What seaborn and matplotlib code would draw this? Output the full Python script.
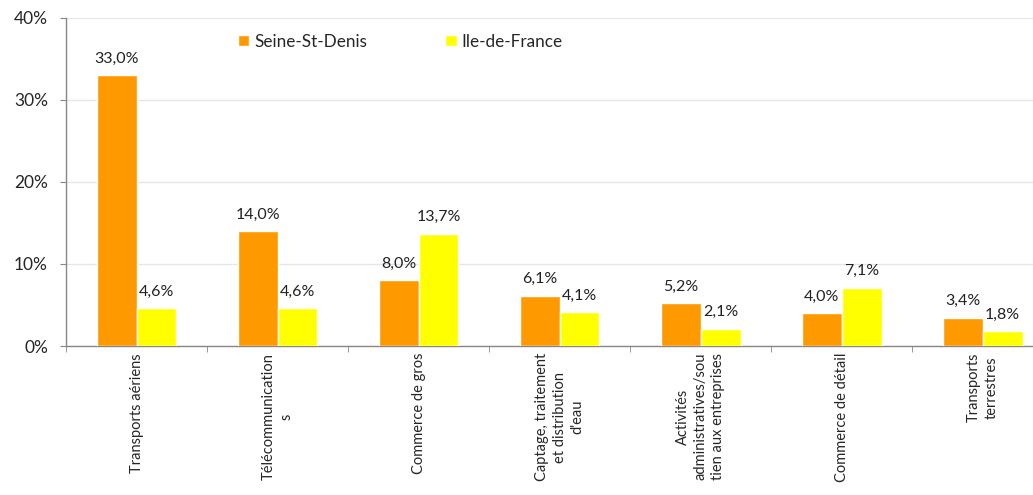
import pandas as pd
import matplotlib.pyplot as plt
import seaborn as sns
from matplotlib.ticker import FixedLocator

# Données
secteurs = [
    "Transports aériens",
    "Télécommunication\ns",
    "Commerce de gros",
    "Captage, traitement\net distribution\nd'eau",
    "Activités\nadministratives/sou\ntien aux entreprises",
    "Commerce de détail",
    "Transports\nterrestres",
]
seine_st_denis = [33.0, 14.0, 8.0, 6.1, 5.2, 4.0, 3.4]
ile_de_france = [4.6, 4.6, 13.7, 4.1, 2.1, 7.1, 1.8]
zones = ["Seine-St-Denis", "Ile-de-France"]
couleurs = ["#FF9900", "#FFFF00"]

df = pd.DataFrame({
    "secteur": secteurs * 2,
    "zone": [zones[0]] * len(secteurs) + [zones[1]] * len(secteurs),
    "valeur": seine_st_denis + ile_de_france,
})

sns.set_style("white")
plt.rcParams['font.family'] = ['Lato', 'DejaVu Sans']

fig = plt.figure(figsize=(10.33, 4.95), dpi=100)
# le graphique d'origine est coupé à droite : l'axe dépasse de la figure
ax = fig.add_axes([0.0639, 0.301, 0.9555, 0.663])

sns.barplot(data=df, x="secteur", y="valeur", hue="zone", order=secteurs,
            hue_order=zones, palette=couleurs, width=0.567, gap=0,
            errorbar=None, saturation=1, ax=ax, zorder=3)

# Etiquettes de valeur au-dessus des barres
for cont in ax.containers:
    labels = [f"{v:.1f}%".replace('.', ',') for v in cont.datavalues]
    ax.bar_label(cont, labels=labels, padding=7, fontsize=11.5, color='#222222')

ax.set_ylim(0, 40)
ax.set_xlim(-0.5, len(secteurs) - 0.5)
ax.set_yticks([0, 10, 20, 30, 40])
ax.set_yticklabels(["0%", "10%", "20%", "30%", "40%"], fontsize=12.5)
ax.yaxis.grid(True, color='#E6E6E6', linewidth=1, zorder=0)
ax.tick_params(axis='y', length=4, color='#888888', direction='out', left=True, pad=9)

ax.set_xticks(range(len(secteurs)))
ax.set_xticklabels(secteurs, rotation=90, fontsize=10.5, ha='center', va='top',
                   multialignment='center', linespacing=1.35)
ax.tick_params(axis='x', which='major', length=0, pad=5)
ax.xaxis.set_minor_locator(FixedLocator([i + 0.5 for i in range(-1, len(secteurs))]))
ax.tick_params(axis='x', which='minor', length=4.5, color='#888888', bottom=True)

ax.set_xlabel("")
ax.set_ylabel("")
for s in ['top', 'right']:
    ax.spines[s].set_visible(False)
for s in ['left', 'bottom']:
    ax.spines[s].set_color('#888888')
    ax.spines[s].set_linewidth(1)

ax.legend(loc='upper left', bbox_to_anchor=(0.174, 0.952), ncol=2, frameon=False,
          fontsize=12.3, handlelength=0.65, handleheight=0.65, columnspacing=4.6,
          handletextpad=0.3, borderpad=0, borderaxespad=0)

plt.savefig('out.png', dpi=100)
